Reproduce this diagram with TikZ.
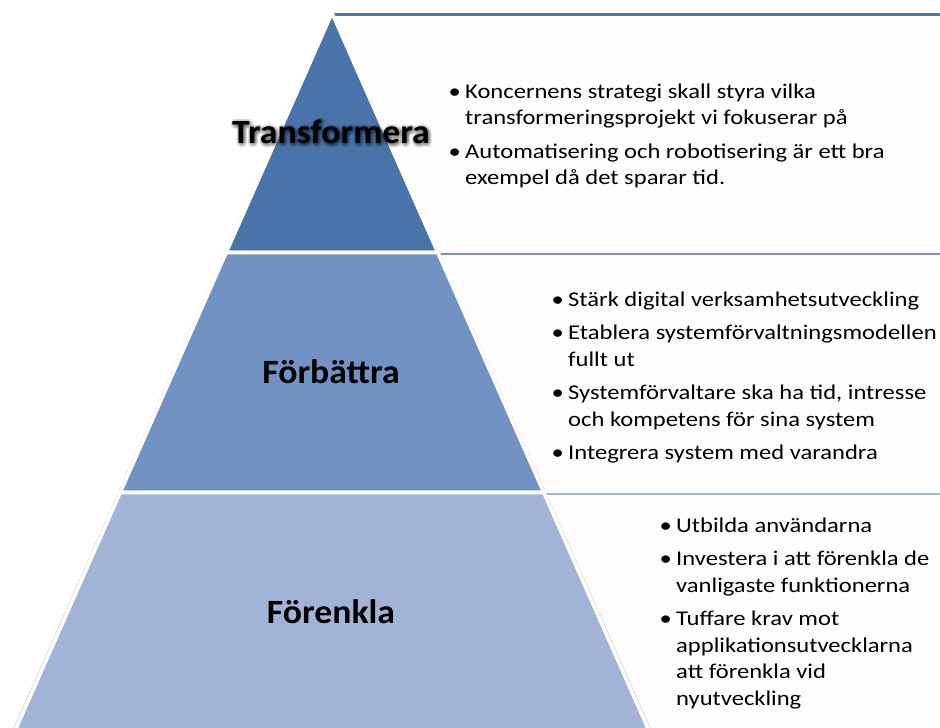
\documentclass[tikz,border=0pt]{standalone}
\usepackage{fontspec}
\setmainfont{Carlito}
\newfontfamily\bodyfont[FakeStretch=1.17]{Carlito}
\newfontfamily\titlefont[FakeStretch=1.05]{Carlito}
\usetikzlibrary{calc}
\definecolor{c1}{HTML}{4A73AA}
\definecolor{c2}{HTML}{7292C4}
\definecolor{c3}{HTML}{A1B4D6}
\definecolor{l1}{HTML}{4E76AE}
\definecolor{l2}{HTML}{7393C5}
\definecolor{l3}{HTML}{A3B5D6}
\definecolor{boxfill}{HTML}{FDFDFD}
\definecolor{edgegray}{HTML}{C4C4C4}
\newcommand{\bul}{\makebox[11.6pt][l]{\hspace{-5pt}\textbullet}}
\begin{document}
\begin{tikzpicture}[x=1pt,y=-1pt,
  tier/.style={draw=white, line width=3.6pt, line join=miter},
  sepline/.style={line width=2.6pt},
  textbox/.style={fill=boxfill, draw=none},
  title/.style={font=\titlefont\fontsize{34}{40}\selectfont\bfseries, anchor=base, inner sep=0pt},
  tshadow/.style={title, text=black, opacity=0.055},
  body/.style={font=\bodyfont\fontsize{21}{26.5}\selectfont, anchor=base west, inner sep=0pt, align=left}]
\useasboundingbox (0,0) rectangle (940,728);
\fill[white] (0,0) rectangle (940,728);
\clip (0,0) rectangle (940,728);

% pyramid geometry
\coordinate (A) at (332,13);
\coordinate (L) at (14,733);
\coordinate (R) at (650,733);
\coordinate (L1) at ($(A)!0.3326!(L)$);
\coordinate (R1) at ($(A)!0.3326!(R)$);
\coordinate (L2) at ($(A)!0.666!(L)$);
\coordinate (R2) at ($(A)!0.666!(R)$);

% text boxes
\fill[textbox] (332,13) rectangle (940,253.5);
\fill[textbox] (400,253.5) rectangle (940,493.5);
\fill[textbox] (500,493.5) rectangle (940,728);

% header lines of the text boxes
\coordinate (E1) at (940,14.5);
\coordinate (E2) at (940,253.8);
\coordinate (E3) at (940,493.8);
\draw[sepline, l1] (A |- E1) -- (E1);
\draw[sepline, l2] (R1 |- E2) -- (E2);
\draw[sepline, l3] (R2 |- E3) -- (E3);

% outer gray edge
\draw[edgegray, line width=0.8pt] ($(L)+(-2.2,0)$) -- ($(A)+(0,-2.4)$) -- ($(R)+(2.2,0)$);

% tiers
\filldraw[tier, fill=c1] (A) -- (R1) -- (L1) -- cycle;
\filldraw[tier, fill=c2] (L1) -- (R1) -- (R2) -- (L2) -- cycle;
\filldraw[tier, fill=c3] (L2) -- (R2) -- (R) -- (L) -- cycle;

% title shadow (soft glow)
\foreach \ang in {0,30,...,330}
  \node[tshadow] at ({332+3*cos(\ang)},{144.5+3*sin(\ang)}) {Transformera};
\foreach \ang in {0,45,...,315}
  \node[tshadow] at ({332+1.5*cos(\ang)},{144.5+1.5*sin(\ang)}) {Transformera};

% titles
\node[title] (t1) at (331,143) {Transformera};
\node[title] (t2) at (331,383) {Förbättra};
\node[title] (t3) at (331,623) {Förenkla};

% bullet texts
\node[body] (b1) at (453.4,98) {\begin{tabular}[t]{@{}l@{}l@{}}
\bul & Koncernens strategi skall styra vilka\\
 & transformeringsprojekt vi fokuserar på\\[7pt]
\bul & Automatisering och robotisering är ett bra\\
 & exempel då det sparar tid.
\end{tabular}};
\node[body] (b2) at (556.4,306) {\begin{tabular}[t]{@{}l@{}l@{}}
\bul & Stärk digital verksamhetsutveckling\\[7pt]
\bul & Etablera systemförvaltningsmodellen\\
 & fullt ut\\[7pt]
\bul & Systemförvaltare ska ha tid, intresse\\
 & och kompetens för sina system\\[7pt]
\bul & Integrera system med varandra
\end{tabular}};
\node[body] (b3) at (664.4,532) {\begin{tabular}[t]{@{}l@{}l@{}}
\bul & Utbilda användarna\\[7pt]
\bul & Investera i att förenkla de\\
 & vanligaste funktionerna\\[7pt]
\bul & Tuffare krav mot\\
 & applikationsutvecklarna\\
 & att förenkla vid\\
 & nyutveckling
\end{tabular}};
\end{tikzpicture}
\end{document}
